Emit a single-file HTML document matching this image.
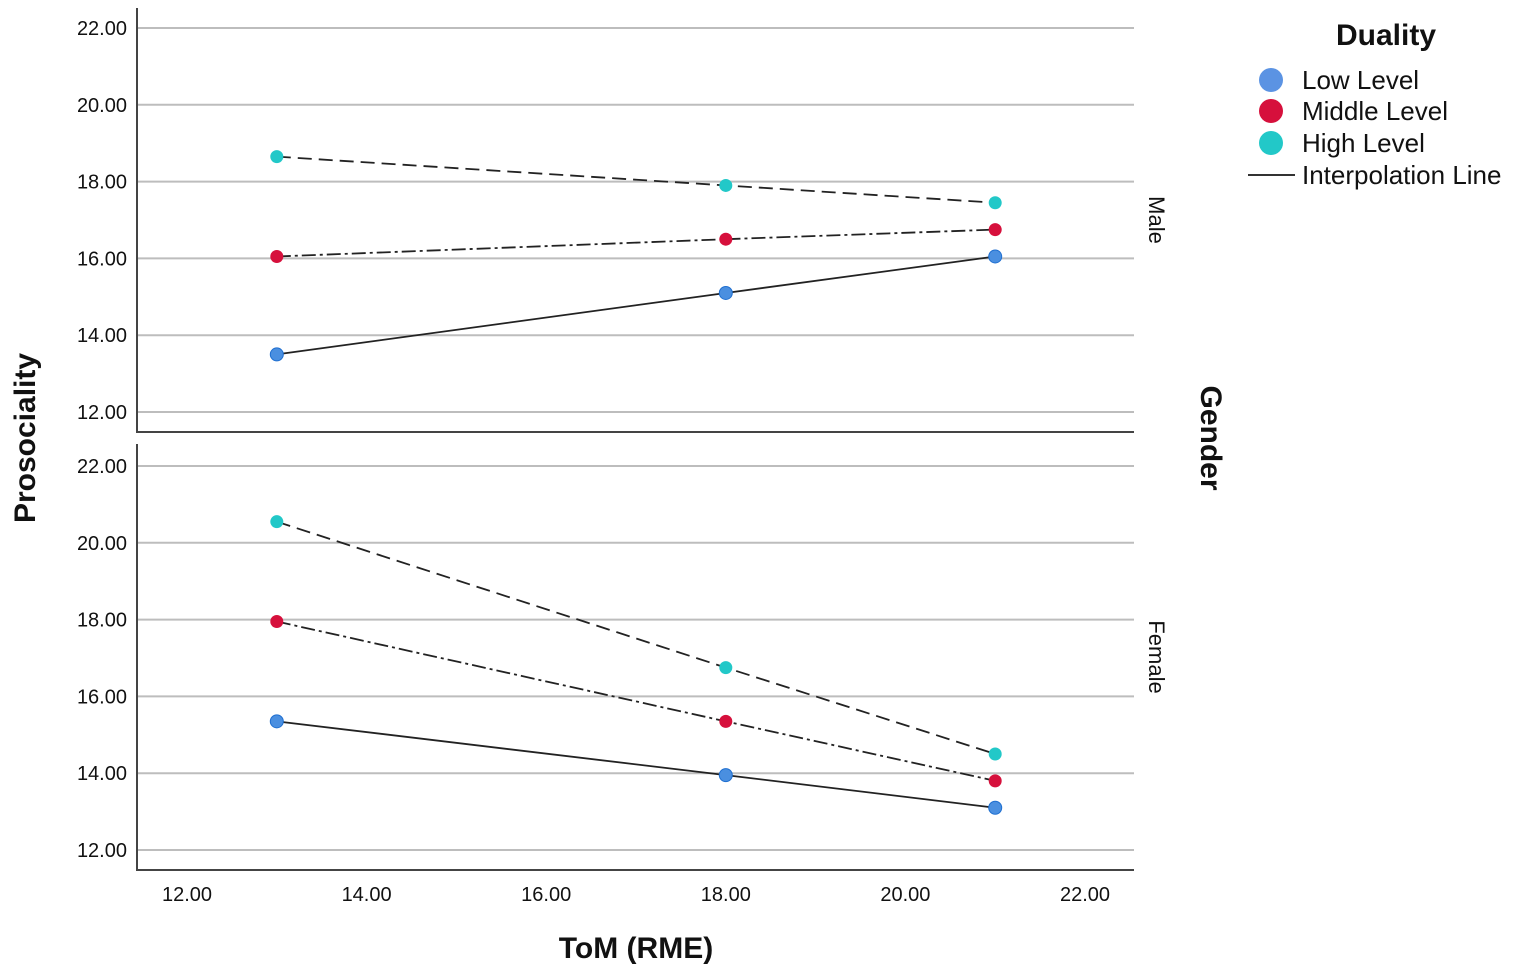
<!DOCTYPE html>
<html><head><meta charset="utf-8"><style>
body{margin:0;background:#fff;}
svg text{font-family:"Liberation Sans",sans-serif;fill:#111;}
</style></head><body>
<svg id="chart" width="1535" height="970" xmlns="http://www.w3.org/2000/svg"></svg>
<script>
const xValues = [13, 18, 21];
const levels = ["Low Level", "Middle Level", "High Level"];
const maleLow = [13.5, 15.1, 16.05];
const maleMiddle = [16.05, 16.5, 16.75];
const maleHigh = [18.65, 17.9, 17.45];
const femaleLow = [15.35, 13.95, 13.1];
const femaleMiddle = [17.95, 15.35, 13.8];
const femaleHigh = [20.55, 16.75, 14.5];
const xTicks = [12, 14, 16, 18, 20, 22];
const yTicks = [12, 14, 16, 18, 20, 22];

const NS = "http://www.w3.org/2000/svg";
const svg = document.getElementById("chart");
function el(tag, attrs, parent) {
  const e = document.createElementNS(NS, tag);
  for (const k in attrs) e.setAttribute(k, attrs[k]);
  (parent || svg).appendChild(e);
  return e;
}
const X0 = 137, X1 = 1134;
function xs(v) { return 187 + (v - 12) * 89.8; }
const panels = [
  {name: "male", label: "Male", base: 412, top: 8, bottom: 432, series: [maleLow, maleMiddle, maleHigh]},
  {name: "female", label: "Female", base: 850, top: 444, bottom: 870, series: [femaleLow, femaleMiddle, femaleHigh]}
];
const colors = ["#4a8fe0", "#d6103c", "#22c8c8"];
const dashes = ["none", "14 4 3 4", "14 7"];

panels.forEach(p => {
  const ys = v => p.base - (v - 12) * 38.4;
  const g = el("g", {});
  
  
  yTicks.forEach(t => {
    const gl = el("line", {x1: X0, x2: X1, y1: ys(t), y2: ys(t), stroke: "#bdbdbd", "stroke-width": 2}, g);
    
    
    const tl = el("text", {x: 127, y: ys(t) + 7, "text-anchor": "end", "font-size": 20}, g);
    tl.textContent = t.toFixed(2);
    
    
  });
  const ax = el("line", {x1: X0, x2: X0, y1: p.top, y2: p.bottom, stroke: "#444", "stroke-width": 2}, g);
  
  
  const bx = el("line", {x1: X0 - 1, x2: X1, y1: p.bottom, y2: p.bottom, stroke: "#444", "stroke-width": 2}, g);
  
  
  const lab = el("text", {x: 0, y: 0, "font-size": 22, transform: `translate(1149,${(p.top + p.bottom) / 2}) rotate(90)`, "text-anchor": "middle"}, g);
  lab.textContent = p.label;
  
  
  p.series.forEach((s, i) => {
    const pts = s.map((v, j) => xs(xValues[j]) + "," + ys(v)).join(" ");
    const line = el("polyline", {points: pts, fill: "none", stroke: "#222", "stroke-width": 1.8, "stroke-dasharray": dashes[i]}, g);
    
    
    s.forEach((v, j) => {
      const c = el("circle", {cx: xs(xValues[j]), cy: ys(v), r: 6.5, fill: colors[i], stroke: i === 0 ? "#1f6fd0" : "none", "stroke-width": 1}, g);
      
      
    });
  });
});
xTicks.forEach(t => {
  const tl = el("text", {x: xs(t), y: 901, "text-anchor": "middle", "font-size": 20});
  tl.textContent = t.toFixed(2);
  
  
});
</script>
<div style="position:absolute;left:0;top:0;width:1535px;height:970px;pointer-events:none;">
<svg width="1535" height="970" xmlns="http://www.w3.org/2000/svg" style="position:absolute;left:0;top:0">
  <text x="636" y="958" text-anchor="middle" font-size="30" font-weight="bold">ToM (RME)</text>
  <text transform="translate(35,438) rotate(-90)" text-anchor="middle" font-size="30" font-weight="bold">Prosociality</text>
  <text transform="translate(1201,438) rotate(90)" text-anchor="middle" font-size="30" font-weight="bold">Gender</text>
  <text x="1386" y="45" text-anchor="middle" font-size="30" font-weight="bold">Duality</text>
  <g><circle cx="1271" cy="80" r="12" fill="#5b93e3"/><text x="1302" y="89" font-size="26">Low Level</text></g>
  <g><circle cx="1271" cy="111" r="12" fill="#d6103c"/><text x="1302" y="120" font-size="26">Middle Level</text></g>
  <g><circle cx="1271" cy="143" r="12" fill="#22c8c8"/><text x="1302" y="152" font-size="26">High Level</text></g>
  <g><line x1="1248" x2="1295" y1="175" y2="175" stroke="#333" stroke-width="2"/><text x="1302" y="184" font-size="26">Interpolation Line</text></g>
</svg></div>
</body></html>
